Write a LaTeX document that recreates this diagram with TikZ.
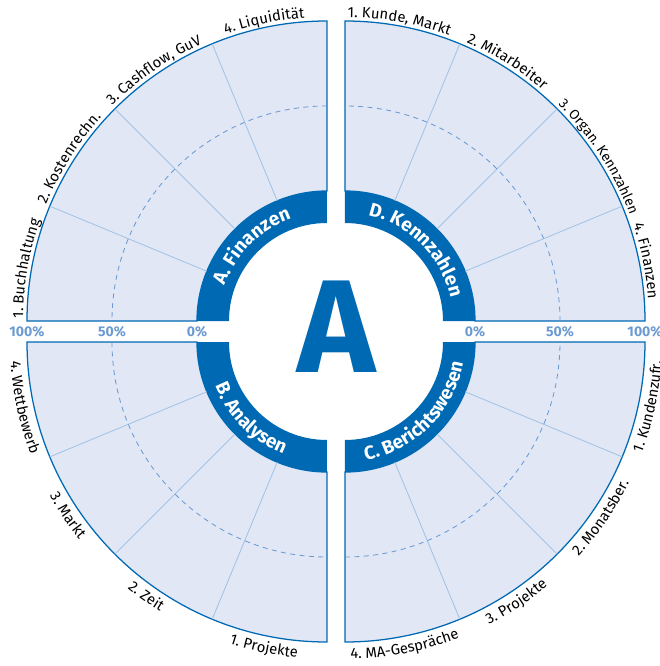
\documentclass[tikz,border=0pt]{standalone}
\usepackage{fontspec}
\setmainfont{Fira Sans}
\usepackage{tikz}
\usetikzlibrary{decorations.text}

\definecolor{ringblue}{HTML}{0069B4}
\definecolor{panefill}{HTML}{E1E7F5}
\definecolor{spokeblue}{HTML}{A3C3E6}
\definecolor{dashblue}{HTML}{6A9BD3}
\definecolor{pctblue}{HTML}{6B9AD2}

\newcommand{\lblfont}{\fontsize{10.5}{12}\selectfont}
\newcommand{\bandfont}{\fontsize{13.5}{15}\selectfont\bfseries\color{white}}
% labels above the middle read clockwise, below it counter-clockwise
\newcommand{\labeltop}[3]{\path[decorate,decoration={text along path,raise=1mm,text={|\lblfont|#3}}] (#1,10.5) ++(#2:300) arc[start angle=#2,delta angle=-60,radius=300];}
\newcommand{\labelbot}[3]{\path[decorate,decoration={text along path,text={|\lblfont|#3}}] (#1,-10.5) ++(#2:317) arc[start angle=#2,delta angle=60,radius=317];}

\begin{document}
\begin{tikzpicture}[x=0.25mm,y=0.25mm,
  pane/.style={fill=panefill,draw=ringblue,line width=0.9pt},
  spoke/.style={draw=spokeblue,line width=0.6pt},
  half/.style={draw=dashblue,line width=0.6pt,dash pattern=on 1.25mm off 1.1mm},
  pct/.style={text=pctblue,font=\fontsize{10}{12}\selectfont\bfseries,inner sep=0pt}]
\useasboundingbox (-336,-334.5) rectangle (323,331.5);

% the four quarters
\foreach \cx/\cy/\a in {-9/10.5/90, 9/10.5/0, -9/-10.5/180, 9/-10.5/270} {
  \begin{scope}[shift={(\cx,\cy)}]
    \filldraw[pane] (\a:130) -- (\a:300) arc[start angle=\a,delta angle=90,radius=300]
      -- (\a+90:130) arc[start angle=\a+90,delta angle=-90,radius=130] -- cycle;
    \foreach \s in {22.5,45,67.5}
      \draw[spoke] (\a+\s:130) -- (\a+\s:300);
    \draw[half] (\a:215) arc[start angle=\a,delta angle=90,radius=215];
    \fill[ringblue] (\a:98) -- (\a:130) arc[start angle=\a,delta angle=90,radius=130]
      -- (\a+90:98) arc[start angle=\a+90,delta angle=-90,radius=98] -- cycle;
  \end{scope}
}

% names in the ring
\path[decorate,decoration={text along path,text align=center,text={|\bandfont|A. Finanzen}}]
  (-9,10.5) ++(180:108) arc[start angle=180,delta angle=-90,radius=108];
\path[decorate,decoration={text along path,text align=center,text={|\bandfont|D. Kennzahlen}}]
  (9,10.5) ++(90:108) arc[start angle=90,delta angle=-90,radius=108];
\path[decorate,decoration={text along path,text align=center,text={|\bandfont|B. Analysen}}]
  (-9,-10.5) ++(180:120) arc[start angle=180,delta angle=90,radius=120];
\path[decorate,decoration={text along path,text align=center,text={|\bandfont|C. Berichtswesen}}]
  (9,-10.5) ++(270:120) arc[start angle=270,delta angle=90,radius=120];

\node[text=ringblue,font=\fontsize{94}{94}\selectfont\bfseries,inner sep=0pt] (bigA) at (0,4.5) {A};

% scale
\foreach \x/\t [count=\i] in {-309/100\%, -224/50\%, -139/0\%, 139/0\%, 224/50\%, 309/100\%}
  \node[pct] (pct\i) at (\x,-0.5) {\t};

% outer labels
\labeltop{-9}{179.5}{1. Buchhaltung}
\labeltop{-9}{157.5}{2. Kostenrechn.}
\labeltop{-9}{135}{3. Cashflow, GuV}
\labeltop{-9}{109.5}{4. Liquidität}
\labeltop{9}{89.5}{1. Kunde, Markt}
\labeltop{9}{66.5}{2. Mitarbeiter}
\path[decorate,decoration={text along path,raise=1mm,text={|\fontsize{9.8}{11}\selectfont|3. Organ. Kennzahlen}}]
  (9,10.5) ++(45.5:300) arc[start angle=45.5,delta angle=-60,radius=300];
\labeltop{9}{18.5}{4. Finanzen}
\labelbot{-9}{252}{1. Projekte}
\labelbot{-9}{231}{2. Zeit}
\labelbot{-9}{209}{3. Markt}
\labelbot{-9}{183.5}{4. Wettbewerb}
\labelbot{9}{339.5}{1. Kundenzufr.}
\labelbot{9}{317.5}{2. Monatsber.}
\labelbot{9}{297}{3. Projekte}
\labelbot{9}{271}{4. MA-Gespräche}

\end{tikzpicture}
\end{document}
